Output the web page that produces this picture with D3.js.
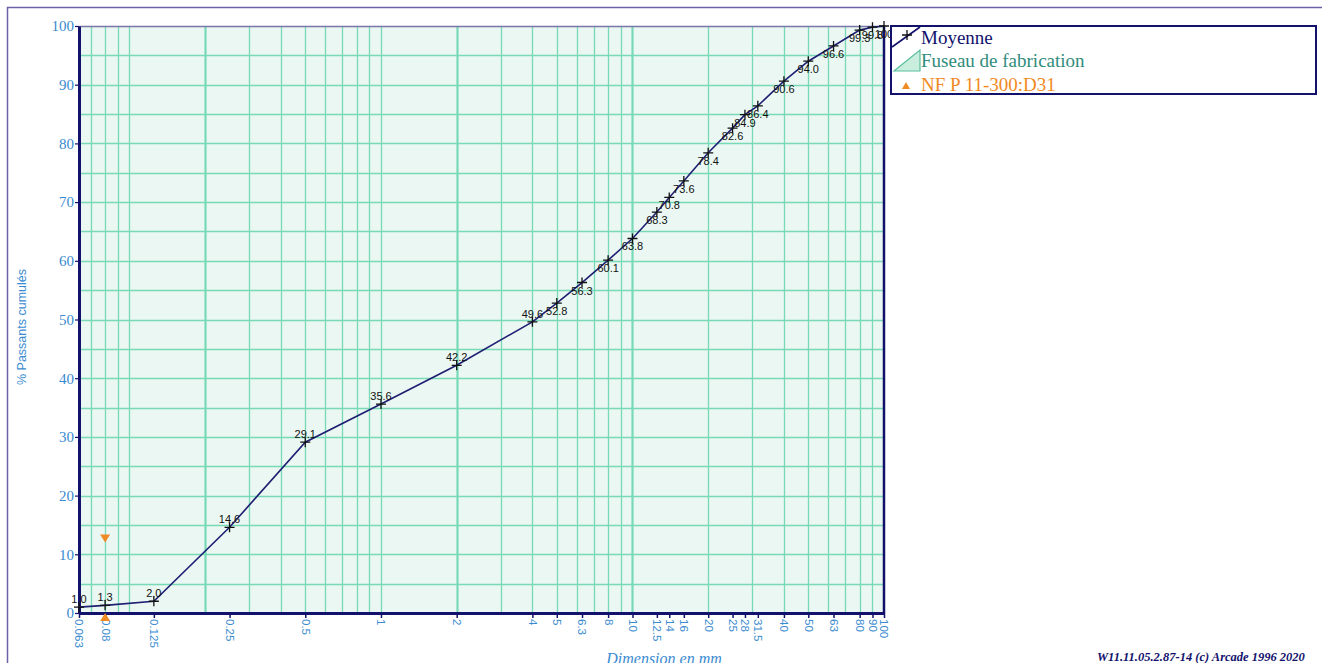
<!DOCTYPE html>
<html>
<head>
<meta charset="utf-8">
<script src="https://cdn.jsdelivr.net/npm/d3@7"></script>
<style>
  html, body { margin: 0; padding: 0; background: #fff; overflow: hidden; }
  svg { display: block; }
</style>
</head>
<body>
<svg id="chart" width="1322" height="663"></svg>
<script>
// sieve sizes (mm) and mean cumulative passing (%)
const sizes = [0.063, 0.08, 0.125, 0.25, 0.5, 1, 2, 4, 5, 6.3, 8, 10, 12.5, 14, 16, 20, 25, 28, 31.5, 40, 50, 63, 80, 90, 100];
const passing = [1.0, 1.3, 2.0, 14.6, 29.1, 35.6, 42.2, 49.6, 52.8, 56.3, 60.1, 63.8, 68.3, 70.8, 73.6, 78.4, 82.6, 84.9, 86.4, 90.6, 94.0, 96.6, 99.3, 99.8, 100];
const tickLabels = ["0.063", "0.08", "0.125", "0.25", "0.5", "1", "2", "4", "5", "6.3", "8", "10", "12.5", "14", "16", "20", "25", "28", "31.5", "40", "50", "63", "80", "90", "100"];
const yTicks = [0, 10, 20, 30, 40, 50, 60, 70, 80, 90, 100];

// NF P 11-300 D31 limits at 0.08 mm
const specSize = [0.08, 0.08];
const specValue = [12, 0];
const specKind = ["max", "min"];

const gridX = [0.07, 0.08, 0.09, 0.1, 0.2, 0.3, 0.4, 0.5, 0.6, 0.7, 0.8, 0.9, 1, 2, 3, 4, 5, 6, 7, 8, 9, 10, 20, 30, 40, 50, 60, 70, 80, 90];
const gridXBold = [0.2, 2, 10];

const legendNames = ["Moyenne", "Fuseau de fabrication", "NF P 11-300:D31"];

const navy = "#12126c";
const blue = "#3a8bd0";
const grid = "#78d9b7";
const orange = "#f08a24";

const svg = d3.select("svg#chart");

// outer frame
svg.append("rect")
  .attr("x", 7.5).attr("y", 7.5)
  .attr("width", 1400).attr("height", 700)
  .attr("fill", "none")
  .attr("stroke", "#6a62a8")
  .attr("stroke-width", 1.5);

const pLeft = 79, pRight = 884, pTop = 26, pBottom = 613;

const x = d3.scaleLog().domain([0.063, 100]).range([pLeft, pRight]);
const y = d3.scaleLinear().domain([0, 100]).range([pBottom, pTop]);

const g = svg.append("g");

// plot background
g.append("rect")
  .attr("x", pLeft).attr("y", pTop)
  .attr("width", pRight - pLeft).attr("height", pBottom - pTop)
  .attr("fill", "#eaf7f2");

// horizontal grid every 5 %
g.append("g").selectAll("line")
  .data(d3.range(5, 100, 5))
  .enter().append("line")
  .attr("x1", pLeft).attr("x2", pRight)
  .attr("y1", (d) => Math.round(y(d)) + 0.5)
  .attr("y2", (d) => Math.round(y(d)) + 0.5)
  .attr("stroke", grid)
  .attr("stroke-width", 1.3);

// vertical log grid
g.append("g").selectAll("line")
  .data(gridX)
  .enter().append("line")
  .attr("x1", (d) => Math.round(x(d)) + 0.5)
  .attr("x2", (d) => Math.round(x(d)) + 0.5)
  .attr("y1", pTop).attr("y2", pBottom)
  .attr("stroke", grid)
  .attr("stroke-width", (d) => (gridXBold.includes(d) ? 2.2 : 1.3));

// plot frame
g.append("line").attr("x1", pLeft).attr("x2", pRight).attr("y1", pTop + 0.5).attr("y2", pTop + 0.5)
  .attr("stroke", "#7a76a8").attr("stroke-width", 1.5);
g.append("line").attr("x1", pRight).attr("x2", pRight).attr("y1", pTop).attr("y2", pBottom)
  .attr("stroke", navy).attr("stroke-width", 2.5);

// y axis
const yAxis = g.append("g")
  .attr("transform", "translate(" + pLeft + ",0)")
  .call(d3.axisLeft(y).tickValues(yTicks).tickSize(4).tickSizeOuter(0));
yAxis.select(".domain").attr("stroke", navy).attr("stroke-width", 3);
yAxis.selectAll(".tick line").attr("stroke", navy).attr("stroke-width", 1.2);
yAxis.selectAll(".tick text")
  .attr("fill", blue)
  .attr("x", -5)
  .style("font-family", "Liberation Serif, serif")
  .style("font-size", "15px");

g.append("text")
  .attr("transform", "translate(26,327) rotate(-90)")
  .attr("text-anchor", "middle")
  .attr("fill", blue)
  .style("font-family", "Liberation Sans, Arial, sans-serif")
  .style("font-size", "12.5px")
  .text("% Passants cumulés");

// x axis
const xAxis = g.append("g")
  .attr("transform", "translate(0," + pBottom + ")")
  .call(d3.axisBottom(x).tickValues(sizes).tickSize(5).tickSizeOuter(0)
    .tickFormat((d, i) => tickLabels[i]));
xAxis.select(".domain").attr("stroke", navy).attr("stroke-width", 3);
xAxis.selectAll(".tick line").attr("stroke", navy).attr("stroke-width", 1.5);
xAxis.selectAll(".tick text")
  .attr("fill", blue)
  .attr("transform", "rotate(90)")
  .attr("text-anchor", "start")
  .attr("x", 6).attr("y", 0).attr("dy", "0.35em")
  .style("font-family", "Liberation Sans, Arial, sans-serif")
  .style("font-size", "11.5px");

svg.append("text")
  .attr("x", 664).attr("y", 664)
  .attr("text-anchor", "middle")
  .attr("fill", blue)
  .style("font-family", "Liberation Serif, serif")
  .style("font-style", "italic")
  .style("font-size", "16px")
  .text("Dimension en mm");

// spec limit triangles
const tri = 5;
g.append("g").selectAll("path")
  .data(specValue)
  .enter().append("path")
  .attr("transform", (d, i) => "translate(" + x(specSize[i]) + "," + y(d) + ")")
  .attr("d", (d, i) => specKind[i] === "max"
    ? "M0,0L" + -tri + ",-8L" + tri + ",-8Z"
    : "M0,0L" + -tri + ",8L" + tri + ",8Z")
  .attr("fill", orange);

// mean curve
const points = sizes.map((s, i) => [s, passing[i]]);
g.append("path")
  .datum(points)
  .attr("fill", "none")
  .attr("stroke", "#1e1e72")
  .attr("stroke-width", 1.6)
  .attr("d", d3.line().x((d) => x(d[0])).y((d) => y(d[1])));

const cross = "M-5,0H5M0,-5V5";
g.append("g").selectAll("path")
  .data(points)
  .enter().append("path")
  .attr("transform", (d) => "translate(" + x(d[0]) + "," + y(d[1]) + ")")
  .attr("d", cross)
  .attr("stroke", "#111")
  .attr("stroke-width", 1.3);

g.append("g").selectAll("text")
  .data(points)
  .enter().append("text")
  .attr("x", (d) => x(d[0]))
  .attr("y", (d) => y(d[1]) + (d[1] < 50 ? -4 : 12))
  .attr("text-anchor", "middle")
  .attr("fill", "#111")
  .style("font-family", "Liberation Sans, Arial, sans-serif")
  .style("font-size", "11px")
  .text((d) => (d[1] === 100 ? "100" : d[1].toFixed(1)));

// legend
const lg = svg.append("g").attr("transform", "translate(891,26)");
lg.append("rect")
  .attr("x", 0).attr("y", 0).attr("width", 425).attr("height", 68)
  .attr("fill", "#fff").attr("stroke", navy).attr("stroke-width", 2);
lg.append("line").attr("x1", 1).attr("y1", 21).attr("x2", 29).attr("y2", 1)
  .attr("stroke", navy).attr("stroke-width", 1.6);
lg.append("path").attr("transform", "translate(16,9)").attr("d", cross)
  .attr("stroke", "#111").attr("stroke-width", 1.3);
lg.append("path").attr("d", "M3,45L29,45L29,24Z")
  .attr("fill", "#c9eedd").attr("stroke", "#5cbf9f").attr("stroke-width", 1.2);
lg.append("path").attr("d", "M11,63L15,56L19,63Z").attr("fill", orange);

lg.selectAll("text.leg")
  .data(legendNames)
  .enter().append("text")
  .attr("class", "leg")
  .attr("x", 30)
  .attr("y", (d, i) => 17.5 + i * 23.5)
  .attr("fill", (d, i) => [navy, "#2f8c7c", orange][i])
  .style("font-family", "Liberation Serif, serif")
  .style("font-size", "19px")
  .text((d) => d);

svg.append("text")
  .attr("x", 1097).attr("y", 661)
  .attr("fill", navy)
  .style("font-family", "Liberation Serif, serif")
  .style("font-style", "italic")
  .style("font-weight", "bold")
  .style("font-size", "12.5px")
  .text("W11.11.05.2.87-14 (c) Arcade 1996 2020");
</script>
</body>
</html>
